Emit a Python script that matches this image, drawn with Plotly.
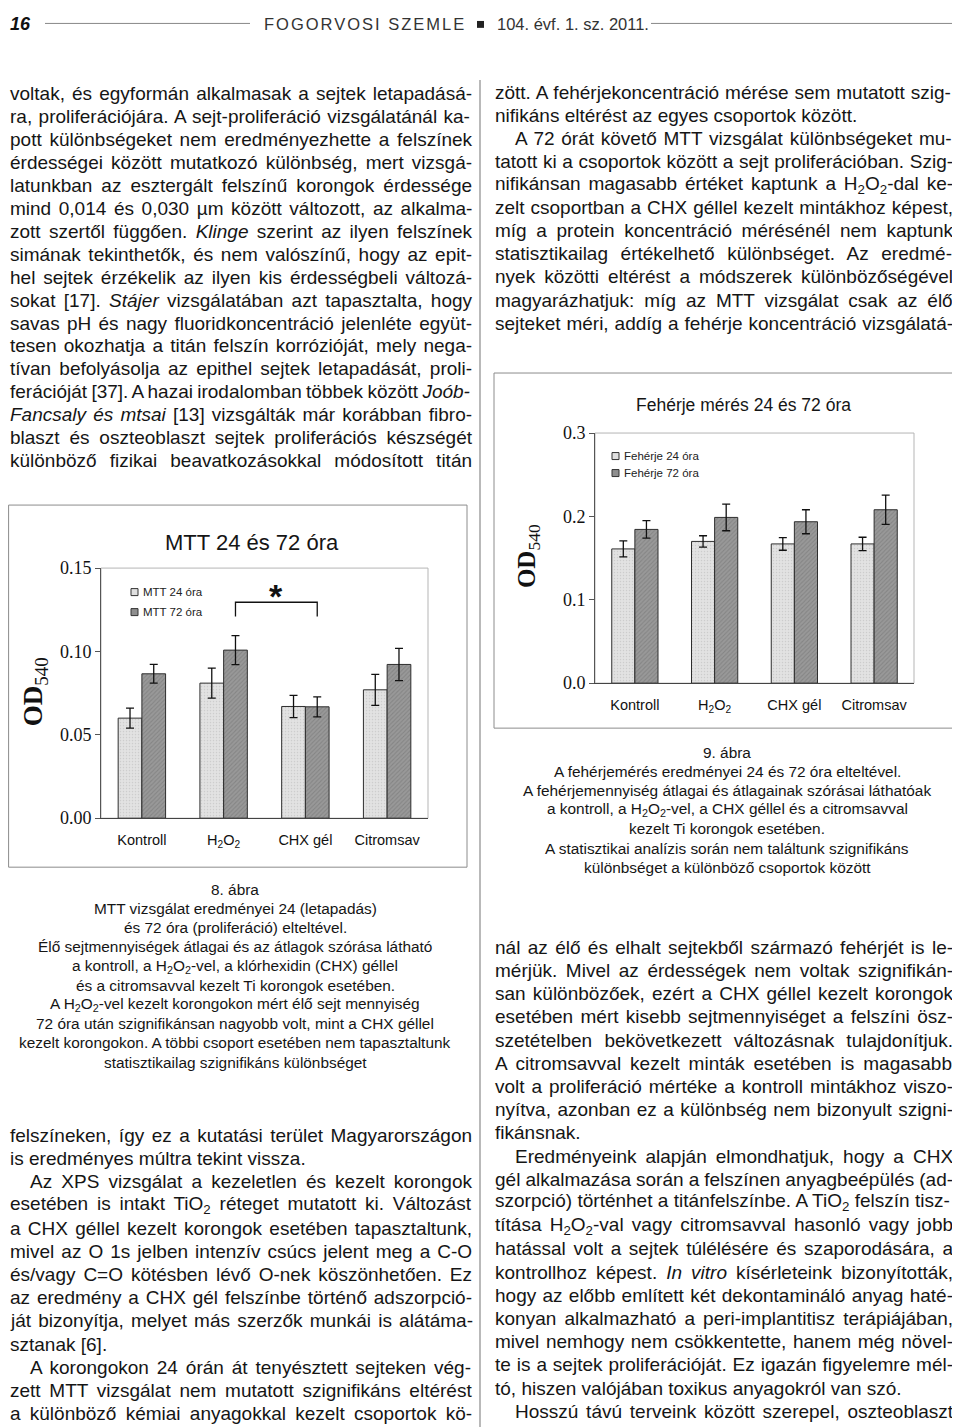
import re
import plotly.graph_objects as go

# ---------------- data ----------------
categories = ["Kontroll", "H<sub>2</sub>O<sub>2</sub>", "CHX gél", "Citromsav"]
mtt_24 = [0.060, 0.081, 0.067, 0.077]
mtt_24_err = [0.006, 0.009, 0.0067, 0.0093]
mtt_72 = [0.0866, 0.1008, 0.0668, 0.0922]
mtt_72_err = [0.0056, 0.0087, 0.0060, 0.0097]
feh_24 = [0.161, 0.170, 0.167, 0.167]
feh_24_err = [0.0096, 0.0068, 0.0076, 0.0080]
feh_72 = [0.1844, 0.1988, 0.1936, 0.208]
feh_72_err = [0.0105, 0.0160, 0.0144, 0.0176]
mtt_ticks = [0.0, 0.05, 0.10, 0.15]
feh_ticks = [0.0, 0.1, 0.2, 0.3]
mtt_legend = ["MTT 24 óra", "MTT 72 óra"]
feh_legend = ["Fehérje 24 óra", "Fehérje 72 óra"]

# page geometry: the plot div sits 8px inside the page; vertical positions are
# mapped from page coordinates to the figure with a small empirical correction
OX, OY = 8, 8
W_FIG, H_FIG = 952, 1430
VY0, VYS = 10.2, 0.9857


def px(x):
    return (x - OX) / W_FIG


def py_raw(v):
    return 1 - (v - OY) / H_FIG


def py(y):
    return py_raw((y - VY0) / VYS)


AW = {' ': 278, '!': 278, '"': 355, '#': 556, '$': 556, '%': 889, '&': 667, "'": 191,
      '(': 333, ')': 333, '*': 389, '+': 584, ',': 278, '-': 333, '.': 278, '/': 278,
      ':': 278, ';': 278, '<': 584, '=': 584, '>': 584, '?': 556, '@': 1015,
      '[': 278, '\\': 278, ']': 278, '^': 469, '_': 556, 'µ': 556}
for c in '0123456789':
    AW[c] = 556
AW.update(dict(A=667, B=667, C=722, D=722, E=667, F=611, G=778, H=722, I=278, J=500, K=667,
               L=556, M=833, N=722, O=778, P=667, Q=778, R=722, S=667, T=611, U=722, V=667,
               W=944, X=667, Y=667, Z=611))
AW.update(dict(a=556, b=556, c=500, d=556, e=556, f=278, g=556, h=556, i=222, j=222, k=500,
               l=222, m=833, n=556, o=556, p=556, q=556, r=333, s=500, t=278, u=556, v=500,
               w=722, x=500, y=500, z=500))
ACC = {'á': 'a', 'é': 'e', 'ó': 'o', 'ö': 'o', 'ő': 'o', 'ú': 'u', 'ü': 'u', 'ű': 'u',
       'Á': 'A', 'É': 'E', 'Í': 'I', 'Ó': 'O', 'Ö': 'O', 'Ő': 'O', 'Ú': 'U', 'Ü': 'U', 'Ű': 'U'}


def cw(ch):
    if ch == 'í':
        return 278
    ch = ACC.get(ch, ch)
    return AW.get(ch, 556)


def measure(s, size):
    w = 0.0
    spaces = 0
    sub = False
    for part in re.split(r'(<[^>]+>)', s):
        if part.startswith('<'):
            if part == '<sub>':
                sub = True
            elif part == '</sub>':
                sub = False
            continue
        f = 0.7 if sub else 1.0
        for ch in part:
            w += cw(ch) * size * f / 1000.0
            if ch == ' ':
                spaces += 1
    return w, spaces


BODY = 19
FONT = "Liberation Sans, Arial, sans-serif"
SERIF = "Liberation Serif, Times New Roman, serif"
annotations = []
shapes = []


def text_ann(text, x, y, size=BODY, anchor='left', color='#151515', family=FONT, raw=False, **kw):
    d = dict(text=text, x=px(x), y=(py_raw(y) if raw else py(y)), xref='paper', yref='paper',
             showarrow=False, xanchor=anchor, yanchor='middle',
             font=dict(family=family, size=size, color=color))
    d.update(kw)
    annotations.append(d)


def column(lines, x0, x1, y0, dy, size=BODY, indent=20):
    for k, (s, mode) in enumerate(lines):
        y = y0 + dy * k
        xs = x0 + (indent if 'I' in mode else 0)
        if 'J' in mode:
            w, n = measure(s, size)
            ws = ((x1 - xs) - w) / n if n else 0
            t = '<span style="font-size:%dpx;word-spacing:%.2fpx">%s</span>' % (size, ws, s)
        else:
            t = s
        text_ann(t, xs, y, size)


left_top = [
    ("voltak, és egyformán alkalmasak a sejtek letapadásá-", 'J'),
    ("ra, proliferációjára. A sejt-proliferáció vizsgálatánál ka-", 'J'),
    ("pott különbségeket nem eredményezhette a felszínek", 'J'),
    ("érdességei között mutatkozó különbség, mert vizsgá-", 'J'),
    ("latunkban az esztergált felszínű korongok érdessége", 'J'),
    ("mind 0,014 és 0,030 µm között változott, az alkalma-", 'J'),
    ("zott szertől függően. <i>Klinge</i> szerint az ilyen felszínek", 'J'),
    ("simának tekinthetők, és nem valószínű, hogy az epit-", 'J'),
    ("hel sejtek érzékelik az ilyen kis érdességbeli változá-", 'J'),
    ("sokat [17]. <i>Stájer</i> vizsgálatában azt tapasztalta, hogy", 'J'),
    ("savas pH és nagy fluoridkoncentráció jelenléte együt-", 'J'),
    ("tesen okozhatja a titán felszín korrózióját, mely nega-", 'J'),
    ("tívan befolyásolja az epithel sejtek letapadását, proli-", 'J'),
    ("ferációját [37]. A hazai irodalomban többek között <i>Joób-</i>", 'J'),
    ("<i>Fancsaly és mtsai</i> [13] vizsgálták már korábban fibro-", 'J'),
    ("blaszt és oszteoblaszt sejtek proliferációs készségét", 'J'),
    ("különböző fizikai beavatkozásokkal módosított titán", 'J'),
]
left_bottom = [
    ("felszíneken, így ez a kutatási terület Magyarországon", 'J'),
    ("is eredményes múltra tekint vissza.", 'L'),
    ("Az XPS vizsgálat a kezeletlen és kezelt korongok", 'IJ'),
    ("esetében is intakt TiO<sub>2</sub> réteget mutatott ki. Változást", 'J'),
    ("a CHX géllel kezelt korongok esetében tapasztaltunk,", 'J'),
    ("mivel az O 1s jelben intenzív csúcs jelent meg a C-O", 'J'),
    ("és/vagy C=O kötésben lévő O-nek köszönhetően. Ez", 'J'),
    ("az eredmény a CHX gél felszínbe történő adszorpció-", 'J'),
    ("ját bizonyítja, melyet más szerzők munkái is alátáma-", 'J'),
    ("sztanak [6].", 'L'),
    ("A korongokon 24 órán át tenyésztett sejteken vég-", 'IJ'),
    ("zett MTT vizsgálat nem mutatott szignifikáns eltérést", 'J'),
    ("a különböző kémiai anyagokkal kezelt csoportok kö-", 'J'),
]
right_top = [
    ("zött. A fehérjekoncentráció mérése sem mutatott szig-", 'J'),
    ("nifikáns eltérést az egyes csoportok között.", 'L'),
    ("A 72 órát követő MTT vizsgálat különbségeket mu-", 'IJ'),
    ("tatott ki a csoportok között a sejt proliferációban. Szig-", 'J'),
    ("nifikánsan magasabb értéket kaptunk a H<sub>2</sub>O<sub>2</sub>-dal ke-", 'J'),
    ("zelt csoportban a CHX géllel kezelt mintákhoz képest,", 'J'),
    ("míg a protein koncentráció mérésénél nem kaptunk", 'J'),
    ("statisztikailag értékelhető különbséget. Az eredmé-", 'J'),
    ("nyek közötti eltérést a módszerek különbözőségével", 'J'),
    ("magyarázhatjuk: míg az MTT vizsgálat csak az élő", 'J'),
    ("sejteket méri, addíg a fehérje koncentráció vizsgálatá-", 'J'),
]
right_bottom = [
    ("nál az élő és elhalt sejtekből származó fehérjét is le-", 'J'),
    ("mérjük. Mivel az érdességek nem voltak szignifikán-", 'J'),
    ("san különbözőek, ezért a CHX géllel kezelt korongok", 'J'),
    ("esetében mért kisebb sejtmennyiséget a felszíni ösz-", 'J'),
    ("szetételben bekövetkezett változásnak tulajdonítjuk.", 'J'),
    ("A citromsavval kezelt minták esetében is magasabb", 'J'),
    ("volt a proliferáció mértéke a kontroll mintákhoz viszo-", 'J'),
    ("nyítva, azonban ez a különbség nem bizonyult szigni-", 'J'),
    ("fikánsnak.", 'L'),
    ("Eredményeink alapján elmondhatjuk, hogy a CHX", 'IJ'),
    ("gél alkalmazása során a felszínen anyagbeépülés (ad-", 'J'),
    ("szorpció) történhet a titánfelszínbe. A TiO<sub>2</sub> felszín tisz-", 'J'),
    ("títása H<sub>2</sub>O<sub>2</sub>-val vagy citromsavval hasonló vagy jobb", 'J'),
    ("hatással volt a sejtek túlélésére és szaporodására, a", 'J'),
    ("kontrollhoz képest. <i>In vitro</i> kísérleteink bizonyították,", 'J'),
    ("hogy az előbb említett két dekontamináló anyag haté-", 'J'),
    ("konyan alkalmazható a peri-implantitisz terápiájában,", 'J'),
    ("mivel nemhogy nem csökkentette, hanem még növel-", 'J'),
    ("te is a sejtek proliferációját. Ez igazán figyelemre mél-", 'J'),
    ("tó, hiszen valójában toxikus anyagokról van szó.", 'L'),
    ("Hosszú távú terveink között szerepel, oszteoblaszt", 'IJ'),
]
caption8 = [
    "8. ábra",
    "MTT vizsgálat eredményei 24 (letapadás)",
    "és 72 óra (proliferáció) elteltével.",
    "Élő sejtmennyiségek átlagai és az átlagok szórása látható",
    "a kontroll, a H<sub>2</sub>O<sub>2</sub>-vel, a klórhexidin (CHX) géllel",
    "és a citromsavval kezelt Ti korongok esetében.",
    "A H<sub>2</sub>O<sub>2</sub>-vel kezelt korongokon mért élő sejt mennyiség",
    "72 óra után szignifikánsan nagyobb volt, mint a CHX géllel",
    "kezelt korongokon. A többi csoport esetében nem tapasztaltunk",
    "statisztikailag szignifikáns különbséget",
]
caption9 = [
    "9. ábra",
    "A fehérjemérés eredményei 24 és 72 óra elteltével.",
    "A fehérjemennyiség átlagai és átlagainak szórásai láthatóak",
    "a kontroll, a H<sub>2</sub>O<sub>2</sub>-vel, a CHX géllel és a citromsavval",
    "kezelt Ti korongok esetében.",
    "A statisztikai analízis során nem találtunk szignifikáns",
    "különbséget a különböző csoportok között",
]

LX0, LX1 = 8, 470
RX0, RX1 = 493, 951
column(left_top, LX0, LX1, 94, 22.9)
column(left_bottom, LX0, LX1, 1135, 23.2)
column(right_top, RX0, RX1, 93, 23.0)
column(right_bottom, RX0, RX1, 947, 23.2)
for k, s in enumerate(caption8):
    text_ann(s, 235, 889 + 19.2 * k, 15.4, anchor='center')
for k, s in enumerate(caption9):
    text_ann(s, 727, 752 + 19.2 * k, 15.4, anchor='center')

# ---------------- page header (kept just inside the figure's top edge) ----------------
HY = 14.5
text_ann("<b><i>16</i></b>", 8, HY, 18, color='#111', raw=True)
text_ann('<span style="font-size:16.5px;letter-spacing:2px">FOGORVOSI SZEMLE</span>', 262, HY, 16.5,
         color='#333', raw=True)
text_ann("104. évf. 1. sz. 2011.", 495, HY, 16.5, color='#333', raw=True)
shapes.append(dict(type='line', xref='paper', yref='paper', x0=px(45), x1=px(250),
                   y0=py_raw(HY - 1), y1=py_raw(HY - 1), line=dict(color='#888', width=1)))
shapes.append(dict(type='line', xref='paper', yref='paper', x0=px(651), x1=px(960),
                   y0=py_raw(HY - 1), y1=py_raw(HY - 1), line=dict(color='#888', width=1)))
shapes.append(dict(type='rect', xref='paper', yref='paper', x0=px(477), x1=px(484),
                   y0=py_raw(HY + 3.5), y1=py_raw(HY - 3.5), line=dict(width=0), fillcolor='#222'))
# column separator
shapes.append(dict(type='line', xref='paper', yref='paper', x0=px(480), x1=px(480), y0=py(80), y1=0,
                   line=dict(color='#8a8a8a', width=1.2)))

xs = list(range(len(categories)))
LIGHT = dict(color='#dcdcdc', line=dict(color='#2e2e2e', width=1),
             pattern=dict(shape='.', fgcolor='#b4b4b4', bgcolor='#e2e2e2', size=3, solidity=0.2))
DARK = dict(color='#8e8e8e', line=dict(color='#2e2e2e', width=1),
            pattern=dict(shape='/', fgcolor='#707070', bgcolor='#999999', size=3, solidity=0.35))
ERR = dict(type='data', color='#111', thickness=1.3, width=4)

fig = go.Figure()
fig.add_trace(go.Bar(x=xs, y=mtt_24, name=mtt_legend[0], marker=LIGHT,
                     error_y=dict(ERR, array=mtt_24_err), xaxis='x', yaxis='y'))
fig.add_trace(go.Bar(x=xs, y=mtt_72, name=mtt_legend[1], marker=DARK,
                     error_y=dict(ERR, array=mtt_72_err), xaxis='x', yaxis='y'))
fig.add_trace(go.Bar(x=xs, y=feh_24, name=feh_legend[0], marker=LIGHT,
                     error_y=dict(ERR, array=feh_24_err), xaxis='x2', yaxis='y2'))
fig.add_trace(go.Bar(x=xs, y=feh_72, name=feh_legend[1], marker=DARK,
                     error_y=dict(ERR, array=feh_72_err), xaxis='x2', yaxis='y2'))

BARGAP = 0.42
BW = (1 - BARGAP) / 2


def xaxis(dom, anchor):
    return dict(domain=[px(dom[0]), px(dom[1])], range=[-0.5, len(categories) - 0.5], anchor=anchor,
                tickvals=xs, ticktext=categories, showline=True, linecolor='#444', linewidth=1,
                ticks='', showgrid=False, zeroline=False, ticklabelstandoff=8,
                tickfont=dict(family=FONT, size=14.5, color='#111'), fixedrange=True)


def yaxis(dom, rng, ticks, fmt, anchor):
    return dict(domain=[py(dom[1]), py(dom[0])], range=rng, anchor=anchor, tickvals=ticks,
                tickformat=fmt, showline=True, linecolor='#555', linewidth=1, ticks='outside',
                ticklen=5, tickcolor='#555', showgrid=False, zeroline=False,
                tickfont=dict(family=SERIF, size=18, color='#111'))


fig.update_layout(
    width=W_FIG, height=H_FIG, margin=dict(l=0, r=0, t=0, b=0),
    paper_bgcolor='white', plot_bgcolor='white', showlegend=False,
    barmode='group', bargap=BARGAP, bargroupgap=0,
    xaxis=xaxis((101, 428), 'y'),
    yaxis=yaxis((568, 818), [0, max(mtt_ticks)], mtt_ticks, '.2f', 'x'),
    xaxis2=xaxis((595, 914), 'y2'),
    yaxis2=yaxis((433, 683), [0, max(feh_ticks)], feh_ticks, '.1f', 'x2'),
)

for xr, yr in (('x domain', 'y domain'), ('x2 domain', 'y2 domain')):
    shapes.append(dict(type='rect', xref=xr, yref=yr, x0=0, x1=1, y0=0, y1=1, layer='below',
                       line=dict(color='#b5b5b5', width=1)))
shapes.append(dict(type='rect', xref='paper', yref='paper', x0=px(8.6), x1=px(467), y0=py(867), y1=py(505),
                   line=dict(color='#8c8c8c', width=1)))
shapes.append(dict(type='rect', xref='paper', yref='paper', x0=px(494), x1=px(959.4), y0=py(728), y1=py(373),
                   line=dict(color='#8c8c8c', width=1)))

text_ann("MTT 24 és 72 óra", 252, 542, 22, anchor='center')
text_ann("Fehérje mérés 24 és 72 óra", 743, 405, 17.5, anchor='center')
text_ann("<b>OD</b><sub>540</sub>", 35, 692, 27, anchor='center', family=SERIF, color='#111', textangle=-90)
text_ann("<b>OD</b><sub>540</sub>", 528, 556, 25, anchor='center', family=SERIF, color='#111', textangle=-90)

for (names, lx, ly, gap) in ((mtt_legend, 131, 592, 20), (feh_legend, 612, 456, 17)):
    for k, nm in enumerate(names):
        yc = ly + gap * k
        shapes.append(dict(type='rect', xref='paper', yref='paper', x0=px(lx), x1=px(lx + 7),
                           y0=py(yc + 3.5), y1=py(yc - 3.5),
                           fillcolor=('#e0e0e0' if k == 0 else '#8e8e8e'), line=dict(color='#333', width=1)))
        text_ann(nm, lx + 10, yc, 11.5, color='#222')

i1, i2 = 1, 2
bx0 = xs[i1] + BW / 2
bx1 = xs[i2] + BW / 2
b_top = mtt_72[i1] + mtt_72_err[i1] + 0.020
b_low = b_top - 0.0085
shapes.append(dict(type='path', xref='x', yref='y',
                   path=f"M {bx0},{b_low} L {bx0},{b_top} L {bx1},{b_top} L {bx1},{b_low}",
                   line=dict(color='#111', width=1.3)))
annotations.append(dict(text='<b>*</b>', x=(bx0 + bx1) / 2, y=b_top + 0.0038, xref='x', yref='y',
                        showarrow=False, xanchor='center', yanchor='middle',
                        font=dict(family=FONT, size=34, color='#111')))

fig.update_layout(annotations=annotations, shapes=shapes)
fig.write_html("out.html")
